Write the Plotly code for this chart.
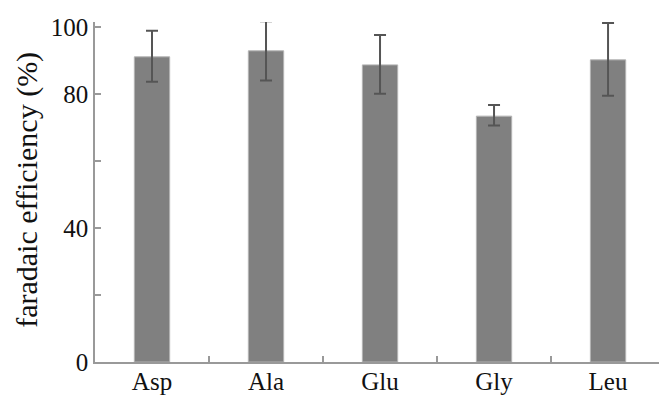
import plotly.graph_objects as go

categories = ["Asp", "Ala", "Glu", "Gly", "Leu"]
efficiency = [91.1, 92.9, 88.7, 73.4, 90.2]
err_plus = [7.8, 8.8, 8.9, 3.3, 11.0]
err_minus = [7.4, 8.9, 8.6, 2.8, 10.7]
y_tick_vals = [0, 20, 40, 60, 80, 100]
y_tick_text = ["0", "", "40", "", "80", "100"]

xpos = list(range(len(categories)))
boundaries = [i + 0.5 for i in xpos[:-1]]

fig = go.Figure()
fig.add_trace(go.Bar(
    x=xpos, y=efficiency, width=0.31,
    marker=dict(color="#808080", line=dict(color="#b4b4b4", width=1)),
    error_y=dict(type="data", array=err_plus, arrayminus=err_minus,
                 color="#555555", thickness=2, width=6, symmetric=False),
))

serif = "Liberation Serif"
fig.update_layout(
    width=659, height=396,
    margin=dict(l=95, r=0, t=22, b=34),
    paper_bgcolor="white", plot_bgcolor="white",
    showlegend=False,
    font=dict(family=serif, color="#111111"),
    xaxis=dict(
        range=[-0.5, 4.447], tickvals=xpos, ticktext=categories,
        ticks="", showgrid=False, zeroline=False,
        showline=True, linecolor="#999999", linewidth=1.5,
        tickfont=dict(family=serif, size=25, color="#111111"),
        ticklabelstandoff=-4,
        minor=dict(tickvals=boundaries, ticks="inside", ticklen=6,
                   tickcolor="#999999", tickwidth=1.5, showgrid=False),
        automargin=False,
    ),
    yaxis=dict(
        range=[0, 101.5], tickvals=y_tick_vals, ticktext=y_tick_text,
        ticks="inside", ticklen=6, tickcolor="#999999", tickwidth=1.5,
        showgrid=False, zeroline=False,
        showline=True, linecolor="#999999", linewidth=1.5,
        tickfont=dict(family=serif, size=25, color="#111111"),
        automargin=False,
    ),
    annotations=[dict(
        text="faradaic efficiency (%)", xref="paper", yref="paper",
        x=-0.122, y=0.507, xanchor="center", yanchor="middle",
        textangle=-90, showarrow=False,
        font=dict(family=serif, size=30, color="#111111"),
    )],
)

fig.write_html("out.html", config={"displayModeBar": False},
               post_script="document.body.style.margin='0';document.body.style.padding='0';")
